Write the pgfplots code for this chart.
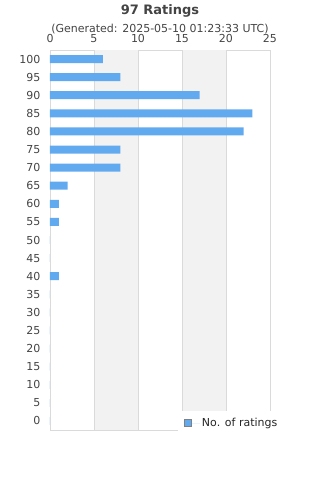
\documentclass[border=0pt]{standalone}
\usepackage{pgfplots}
\pgfplotsset{compat=1.18}
\usepackage{fontspec}
\setmainfont{DejaVu Sans}
\definecolor{barblue}{RGB}{98,170,240}
\definecolor{band}{RGB}{242,242,242}
\definecolor{gridc}{RGB}{218,218,218}
\definecolor{txt}{RGB}{68,68,68}
\begin{document}
\begin{tikzpicture}
\useasboundingbox (0pt,0pt) rectangle (320pt,480pt);
\node[font=\bfseries\fontsize{13}{15}\selectfont, text=txt] at (160pt,469pt) {97 Ratings};
\node[font=\fontsize{11}{13}\selectfont, text=txt] at (160pt,451pt) {(Generated: 2025-05-10 01:23:33 UTC)};
\begin{axis}[at={(50pt,50pt)}, anchor=south west, scale only axis, width=220pt, height=380pt,
 xbar, bar width=8pt, xmin=0, xmax=25, ymin=-2.5, ymax=102.5,
 ytick={0,5,...,100}, xtick={0,5,...,25},
 xticklabel pos=right,
 axis line style={gridc}, xmajorgrids, grid style={gridc}, major tick length=0,
 tick label style={font=\fontsize{11}{13}\selectfont, text=txt},
 yticklabel style={xshift=-6pt},
 xticklabel style={yshift=7pt, inner sep=0pt},
 /pgf/number format/assume math mode=true,
 legend style={at={(0.58,0.05)}, anchor=north west, fill=white, draw=none,
   font=\fontsize{11}{13}\selectfont, text=black!85, inner xsep=6pt, inner ysep=5pt},
 legend cell align=left,
 legend image code/.code={\path (0pt,0pt) -- (16pt,0pt);
   \draw[fill=barblue, draw=gray] (0pt,-3.5pt) rectangle (7pt,3.5pt);},
]
\fill[band] (axis cs:5,-2.5) rectangle (axis cs:10,102.5);
\fill[band] (axis cs:15,-2.5) rectangle (axis cs:20,102.5);
\draw[gridc] (axis cs:5,-2.5) -- (axis cs:5,102.5);
\draw[gridc] (axis cs:10,-2.5) -- (axis cs:10,102.5);
\draw[gridc] (axis cs:15,-2.5) -- (axis cs:15,102.5);
\draw[gridc] (axis cs:20,-2.5) -- (axis cs:20,102.5);
\addplot[fill=barblue, draw=none] coordinates {
(6,100) (8,95) (17,90) (23,85) (22,80) (8,75) (8,70) (2,65) (1,60) (1,55)
(0,50) (0,45) (1,40) (0,35) (0,30) (0,25) (0,20) (0,15) (0,10) (0,5) (0,0)};
\addlegendentry{No. of ratings}
\end{axis}
\end{tikzpicture}
\end{document}
